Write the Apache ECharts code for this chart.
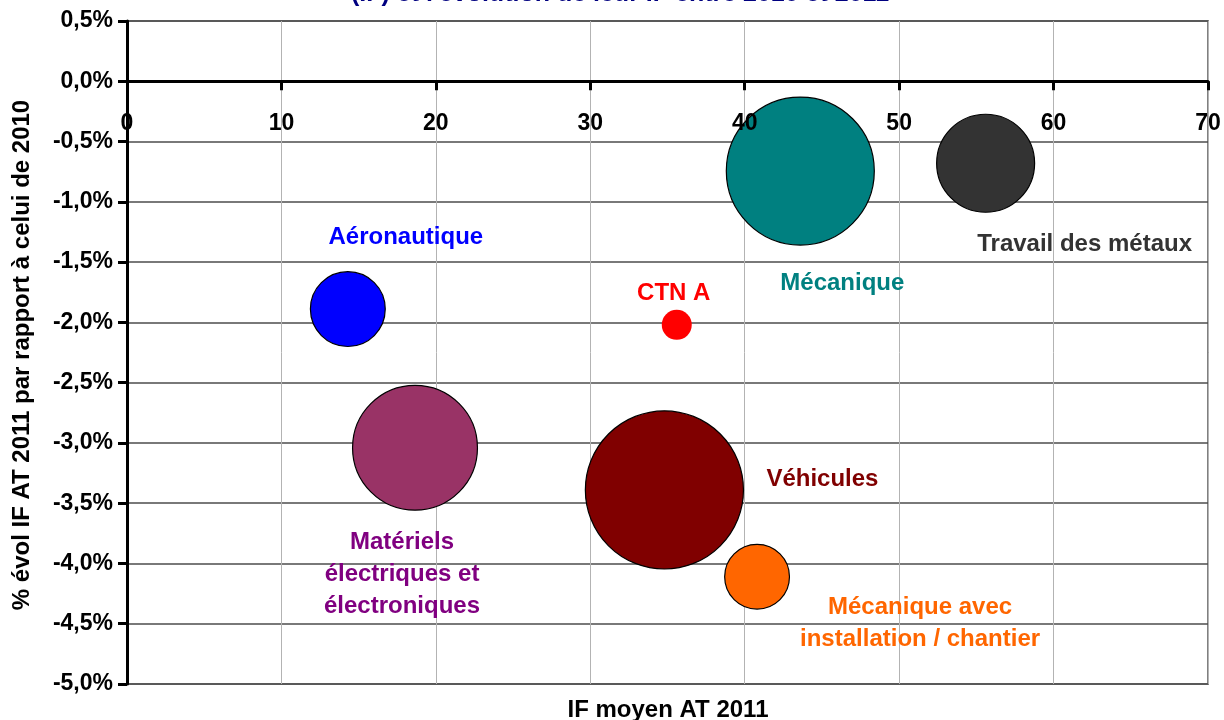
<!DOCTYPE html>
<html>
<head>
<meta charset="utf-8">
<script src="https://cdn.jsdelivr.net/npm/echarts@6/dist/echarts.min.js"></script>
<style>
  html, body { margin: 0; padding: 0; background: #fff; }
  #chart { width: 1224px; height: 720px; }
</style>
</head>
<body>
<div id="chart"></div>
<script>
// sectors, IF moyen AT 2011 (x), % evolution vs 2010 (y), bubble weight
const sectors = [
  'Aéronautique',
  'CTN A',
  'Matériels\nélectriques et\nélectroniques',
  'Véhicules',
  'Mécanique avec\ninstallation / chantier',
  'Mécanique',
  'Travail des métaux'
];
const ifMoyen = [14.3, 35.6, 18.65, 34.8, 40.8, 43.6, 55.6];
const evolIF = [-1.89, -2.02, -3.04, -3.39, -4.11, -0.745, -0.68];
const bubbleWeight = [56, 9, 156, 250, 42, 219, 96];

const bubbleColors = ['#0000ff', '#ff0000', '#993366', '#800000', '#ff6600', '#008080', '#333333'];
const labelColors = ['#0000ff', '#ff0000', '#800080', '#800000', '#ff6600', '#008080', '#333333'];
const labelOffsets = [[58, -72], [-3, -31], [-13, 127], [158, -11], [163, 47], [42, 112], [99, 81]];

const FONT = 'Liberation Sans, Arial, sans-serif';
const GRID_TOP = 21, GRID_BOTTOM = 36;
const Y_MIN = -5, Y_MAX = 0.5;
// distance from the top of the plot down to the 0% line
const zeroShift = (720 - GRID_TOP - GRID_BOTTOM) * Y_MAX / (Y_MAX - Y_MIN);

const chart = echarts.init(document.getElementById('chart'));

const seriesData = sectors.map((name, i) => ({
  name: name,
  value: [ifMoyen[i], evolIF[i], bubbleWeight[i]],
  itemStyle: {
    color: bubbleColors[i],
    opacity: 1,
    borderColor: '#000',
    borderWidth: name === 'CTN A' ? 0 : 1.2
  },
  label: {
    show: true,
    position: 'inside',
    offset: labelOffsets[i],
    formatter: name,
    color: labelColors[i],
    opacity: 1,
    fontFamily: FONT,
    fontWeight: 'bold',
    fontSize: 24,
    lineHeight: 32,
    align: 'center'
  }
}));

const option = {
  animation: false,
  backgroundColor: '#fff',
  grid: {
    left: 127, right: 16, top: GRID_TOP, bottom: GRID_BOTTOM,
    outerBoundsMode: 'none',
    show: true, borderColor: '#808080', borderWidth: 2
  },
  xAxis: [
    {
      // grid lines only
      type: 'value', min: 0, max: 70, interval: 10, position: 'bottom',
      axisLine: { show: false, onZero: false }, axisTick: { show: false }, axisLabel: { show: false },
      splitLine: { show: true, lineStyle: { color: '#b3b3b3', width: 1 } }
    },
    {
      // visible axis on the 0% line, drawn above the bubbles
      type: 'value', min: 0, max: 70, interval: 10, z: 10, position: 'top', offset: -zeroShift,
      axisLine: { show: true, onZero: false, lineStyle: { color: '#000', width: 3 } },
      axisTick: { show: true, inside: true, length: 9, lineStyle: { color: '#000', width: 3 } },
      axisLabel: { inside: true, color: '#000', fontFamily: FONT, fontWeight: 'bold', fontSize: 23, margin: 31 },
      splitLine: { show: false }
    }
  ],
  yAxis: {
    type: 'value', min: Y_MIN, max: Y_MAX, interval: 0.5,
    axisLine: { show: true, onZero: false, lineStyle: { color: '#000', width: 3 } },
    axisTick: { show: true, length: 9, lineStyle: { color: '#000', width: 3 } },
    axisLabel: {
      color: '#000', fontFamily: FONT, fontWeight: 'bold', fontSize: 23, margin: 14,
      formatter: v => v.toFixed(1).replace('.', ',') + '%'
    },
    splitLine: { show: true, lineStyle: { color: '#4d4d4d', width: 1.5 } }
  },
  graphic: [
    {
      type: 'text', x: 620, y: -6, z: 20,
      style: {
        text: "(IF) et l'évolution de leur IF entre 2010 et 2011",
        fill: '#000080', font: 'bold 25px ' + FONT,
        textAlign: 'center', textVerticalAlign: 'middle', verticalAlign: 'middle'
      }
    },
    {
      type: 'text', x: 668, y: 710, z: 20,
      style: {
        text: 'IF moyen AT 2011',
        fill: '#000', font: 'bold 24px ' + FONT,
        textAlign: 'center', textVerticalAlign: 'middle', verticalAlign: 'middle'
      }
    },
    {
      type: 'text', x: 22, y: 355, rotation: Math.PI / 2, z: 20,
      style: {
        text: '% évol IF AT 2011 par rapport à celui de 2010',
        fill: '#000', font: 'bold 24px ' + FONT,
        textAlign: 'center', textVerticalAlign: 'middle', verticalAlign: 'middle'
      }
    }
  ],
  series: [
    {
      type: 'scatter',
      xAxisIndex: 0,
      data: seriesData,
      symbol: 'circle',
      symbolSize: val => 10 * Math.sqrt(val[2]),
      emphasis: { disabled: true }
    }
  ]
};

chart.setOption(option);
</script>
</body>
</html>
